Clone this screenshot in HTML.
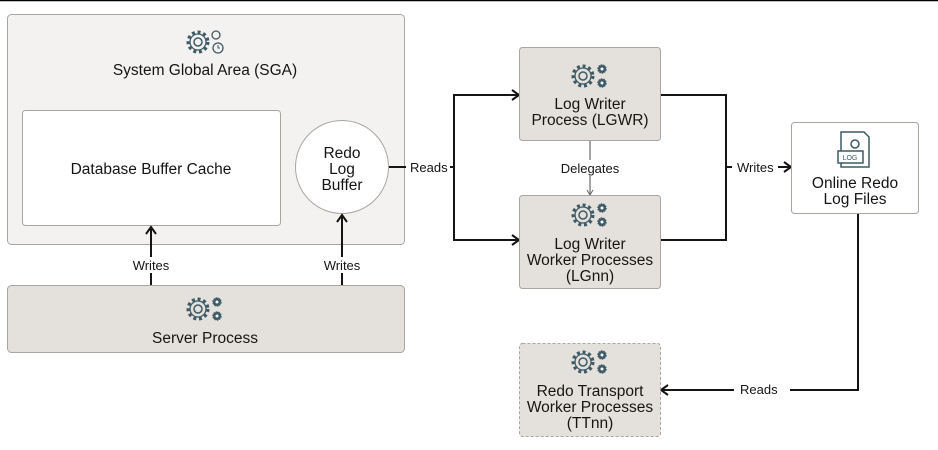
<!DOCTYPE html>
<html><head><meta charset="utf-8"><style>
body{margin:0;background:#fff}
svg{display:block}
text{font-family:"Liberation Sans",sans-serif;fill:#161513}
</style></head><body>
<svg width="938" height="450" viewBox="0 0 938 450" xmlns="http://www.w3.org/2000/svg">
<defs>
<marker id="a" markerWidth="12" markerHeight="12" refX="10" refY="6" orient="auto" markerUnits="userSpaceOnUse">
<path d="M3,1 L10,6 L3,11" fill="none" stroke="#161513" stroke-width="2"/></marker>
<marker id="g" markerWidth="10" markerHeight="10" refX="8" refY="5" orient="auto" markerUnits="userSpaceOnUse">
<path d="M3,2 L8,5 L3,8" fill="none" stroke="#666" stroke-width="1"/></marker>
<g id="gear">
<circle cx="-7" cy="0" r="10" fill="none" stroke="#3d5a66" stroke-width="3" stroke-dasharray="3 2.8"/>
<circle cx="-7" cy="0" r="8" fill="none" stroke="#3d5a66" stroke-width="1.3"/>
<circle cx="-7" cy="0" r="4" fill="none" stroke="#3d5a66" stroke-width="1.5"/>
<circle cx="12" cy="-7" r="4" fill="#3d5a66" stroke="#3d5a66" stroke-width="1.5" stroke-dasharray="1.5 1"/>
<circle cx="12" cy="-7" r="1.5" fill="#fff"/>
<circle cx="12" cy="7" r="4" fill="#3d5a66" stroke="#3d5a66" stroke-width="1.5" stroke-dasharray="1.5 1"/>
<circle cx="12" cy="7" r="1.5" fill="#fff"/>
</g>
</defs>
<line x1="0" y1="0.5" x2="938" y2="0.5" stroke="#000" stroke-width="1.5"/>
<!-- SGA -->
<rect x="7.5" y="14.5" width="397" height="230" rx="4" fill="#f4f2f0" stroke="#aaa59f"/>
<g transform="translate(198,42)">
<circle cx="0" cy="0" r="10" fill="none" stroke="#3d5a66" stroke-width="3" stroke-dasharray="3 2.8"/>
<circle cx="0" cy="0" r="8" fill="none" stroke="#3d5a66" stroke-width="1.3"/>
<circle cx="0" cy="0" r="4" fill="none" stroke="#3d5a66" stroke-width="1.5"/>
<circle cx="18" cy="-7" r="4" fill="none" stroke="#3d5a66" stroke-width="1.3"/>
<circle cx="20" cy="6" r="5" fill="none" stroke="#3d5a66" stroke-width="1.3"/>
<path d="M20,3 V6 H22" fill="none" stroke="#3d5a66" stroke-width="1"/>
</g>
<text x="205" y="75" font-size="15.5" text-anchor="middle">System Global Area (SGA)</text>
<rect x="22.5" y="110.5" width="258" height="115" rx="3" fill="#fff" stroke="#aaa59f"/>
<text x="151" y="174" font-size="15.5" text-anchor="middle">Database Buffer Cache</text>
<circle cx="342" cy="167" r="46.5" fill="#fff" stroke="#aaa59f"/>
<text font-size="15.5" text-anchor="middle"><tspan x="342" y="158">Redo</tspan><tspan x="342" y="174">Log</tspan><tspan x="342" y="190">Buffer</tspan></text>
<!-- Server -->
<rect x="7.5" y="285.5" width="397" height="67" rx="4" fill="#e4e1dc" stroke="#aaa59f"/>
<use href="#gear" x="205" y="309"/>
<text x="205" y="343" font-size="15.5" text-anchor="middle">Server Process</text>
<line x1="151" y1="285" x2="151" y2="227" stroke="#161513" stroke-width="2" marker-end="url(#a)"/>
<line x1="342" y1="285" x2="342" y2="215" stroke="#161513" stroke-width="2" marker-end="url(#a)"/>
<rect x="128" y="257" width="46" height="16" fill="#fff"/>
<rect x="319" y="257" width="46" height="16" fill="#fff"/>
<text x="151" y="270" font-size="13" text-anchor="middle">Writes</text>
<text x="342" y="270" font-size="13" text-anchor="middle">Writes</text>
<!-- Reads -->
<line x1="389" y1="167" x2="406" y2="167" stroke="#161513" stroke-width="2"/>
<text x="410" y="172" font-size="13">Reads</text>
<line x1="450" y1="167" x2="454" y2="167" stroke="#161513" stroke-width="2"/>
<path d="M519,95 H454 V240 H519" fill="none" stroke="#161513" stroke-width="2"/>
<line x1="500" y1="95" x2="519" y2="95" stroke="#161513" stroke-width="2" marker-end="url(#a)"/>
<line x1="500" y1="240" x2="519" y2="240" stroke="#161513" stroke-width="2" marker-end="url(#a)"/>
<!-- LGWR -->
<rect x="519.5" y="47.5" width="141" height="93" rx="3" fill="#e4e1dc" stroke="#aaa59f"/>
<use href="#gear" x="590" y="76"/>
<text font-size="15.5" text-anchor="middle"><tspan x="590" y="109">Log Writer</tspan><tspan x="590" y="125">Process (LGWR)</tspan></text>
<line x1="590" y1="141" x2="590" y2="195" stroke="#888" stroke-width="1.5" marker-end="url(#g)"/>
<rect x="558" y="160" width="66" height="16" fill="#fff"/>
<text x="590" y="173" font-size="13" text-anchor="middle">Delegates</text>
<!-- LGnn -->
<rect x="519.5" y="195.5" width="141" height="93" rx="3" fill="#e4e1dc" stroke="#aaa59f"/>
<use href="#gear" x="590" y="215"/>
<text font-size="15.5" text-anchor="middle"><tspan x="590" y="249">Log Writer</tspan><tspan x="590" y="265">Worker Processes</tspan><tspan x="590" y="281">(LGnn)</tspan></text>
<!-- Writes -->
<path d="M661,95 H726 V240 H661" fill="none" stroke="#161513" stroke-width="2"/>
<line x1="726" y1="167" x2="732" y2="167" stroke="#161513" stroke-width="2"/>
<text x="737" y="172" font-size="13">Writes</text>
<line x1="778" y1="167" x2="791" y2="167" stroke="#161513" stroke-width="2" marker-end="url(#a)"/>
<!-- Online redo -->
<rect x="791.5" y="122.5" width="127" height="91" rx="3" fill="#fff" stroke="#aaa59f"/>
<g stroke="#3d5a66" fill="none" stroke-width="1.5">
<path d="M841,132 H864 L869,137 V167 H841 Z"/>
<circle cx="855" cy="144" r="4"/>
<rect x="838" y="151" width="25" height="12" fill="#fff"/>
</g>
<text x="850" y="160" font-size="7" text-anchor="middle" style="fill:#3d5a66">LOG</text>
<text font-size="15.5" text-anchor="middle"><tspan x="855" y="188">Online Redo</tspan><tspan x="855" y="204">Log Files</tspan></text>
<path d="M858,214 V390 H790" fill="none" stroke="#161513" stroke-width="2"/>
<text x="740" y="394" font-size="13">Reads</text>
<line x1="734" y1="390" x2="661" y2="390" stroke="#161513" stroke-width="2" marker-end="url(#a)"/>
<!-- TTnn -->
<rect x="519.5" y="343.5" width="141" height="93" rx="3" fill="#e4e1dc" stroke="#aaa59f" stroke-dasharray="3 2"/>
<use href="#gear" x="590" y="362"/>
<text font-size="15.5" text-anchor="middle"><tspan x="590" y="396">Redo Transport</tspan><tspan x="590" y="412">Worker Processes</tspan><tspan x="590" y="428">(TTnn)</tspan></text>
</svg>
</body></html>
